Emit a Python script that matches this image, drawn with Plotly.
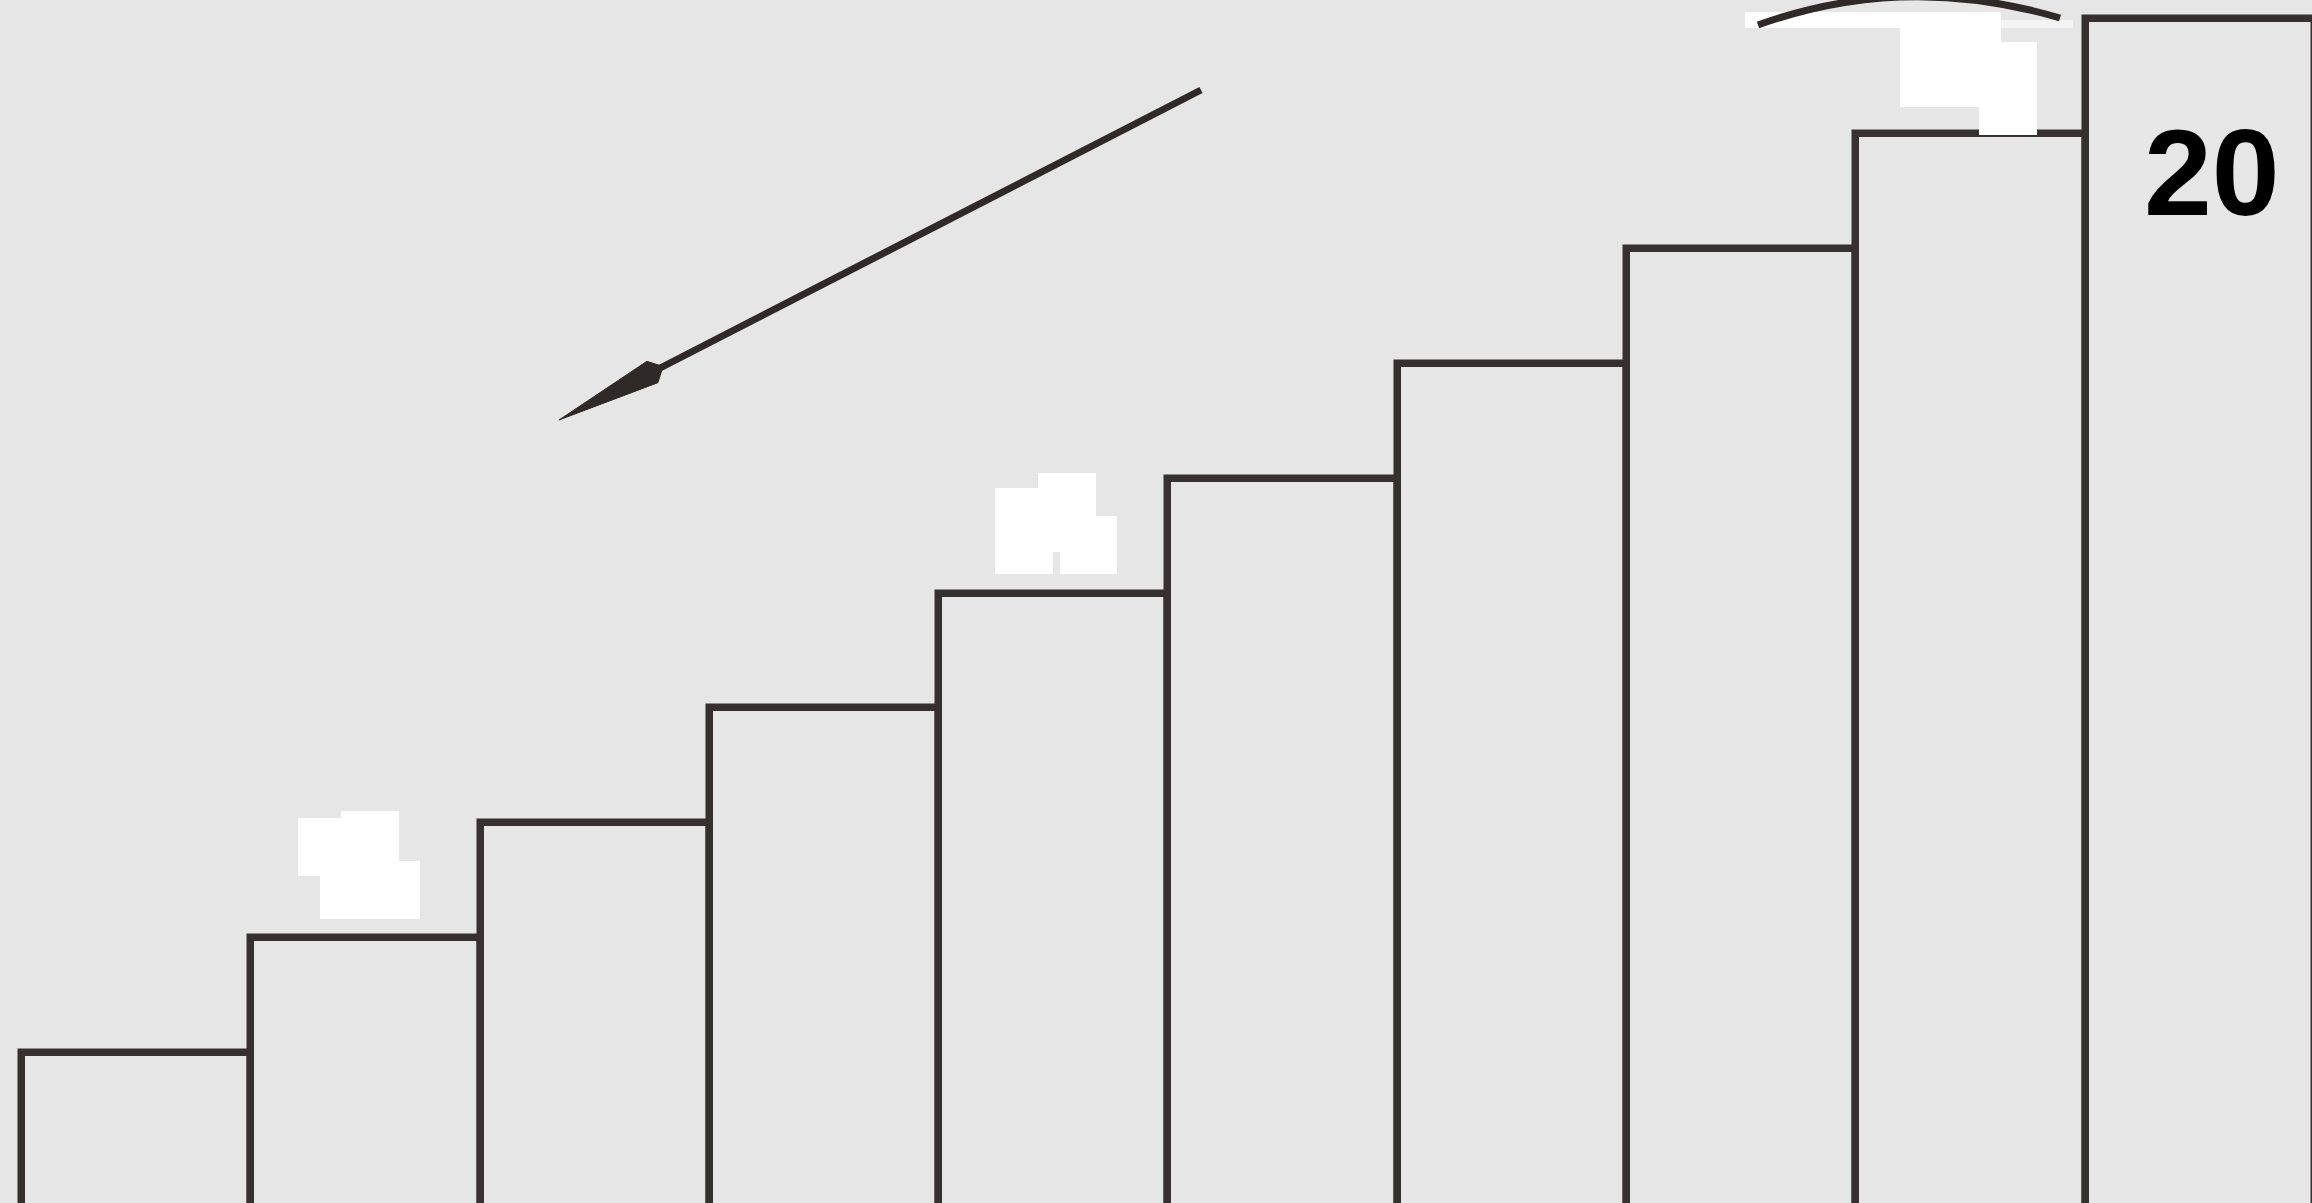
import plotly.graph_objects as go

# ---- data ----
categories = [1, 2, 3, 4, 5, 6, 7, 8, 9, 10]
values = [11, 12, 13, 14, 15, 16, 17, 18, 19, 20]
top_label = "20"

W, H = 2312, 1203
BG = "#e6e6e6"
DARK = "#2f2a28"
LINE = "#363130"

# pixel -> paper helpers for decorations
def px(xp):
    return xp / W

def py(yp):
    return 1 - yp / H

def rect(x0, y0, x1, y1, color="white"):
    return dict(type="rect", xref="paper", yref="paper",
                x0=px(x0), x1=px(x1), y0=py(y1), y1=py(y0),
                fillcolor=color, line=dict(width=0), layer="above")

fig = go.Figure()
fig.add_trace(go.Bar(
    x=categories, y=values, width=1,
    marker=dict(color=BG, line=dict(color=LINE, width=7.5)),
    hoverinfo="skip", showlegend=False,
))

shapes = []
# white masked label patches
shapes += [
    rect(298, 818, 399, 876), rect(341, 811, 399, 876), rect(320, 861, 420, 919),
    rect(995, 488, 1053, 574), rect(1038, 473, 1096, 552), rect(1060, 473, 1096, 574),
    rect(1060, 516, 1117, 574),
    rect(1745, 12, 2000, 28), rect(2000, 20, 2073, 28, "#f4f4f4"),
    rect(1900, 13, 2001, 107), rect(1979, 42, 2037, 135),
]
# arc at top
shapes.append(dict(type="path", xref="paper", yref="paper",
                   path=f"M {px(1758)},{py(25)} Q {px(1905)},{py(-28)} {px(2060)},{py(18)}",
                   line=dict(color=DARK, width=7), layer="above"))
# arrow: line + elongated head
tail = (1201, 90)
tip = (559, 420)
dx, dy = tail[0] - tip[0], tail[1] - tip[1]
L = (dx * dx + dy * dy) ** 0.5
ux, uy = dx / L, dy / L
nx, ny = -uy, ux
hl, hw = 105, 12
bx, by = tip[0] + hl * ux, tip[1] + hl * uy
shapes.append(dict(type="line", xref="paper", yref="paper",
                   x0=px(tail[0]), y0=py(tail[1]), x1=px(bx), y1=py(by),
                   line=dict(color=DARK, width=7), layer="above"))
c1 = (bx + hw * nx, by + hw * ny)
c2 = (bx - hw * nx, by - hw * ny)
shapes.append(dict(type="path", xref="paper", yref="paper",
                   path=(f"M {px(tip[0])},{py(tip[1])} L {px(c1[0])},{py(c1[1])} "
                         f"L {px(bx + 12*ux)},{py(by + 12*uy)} L {px(c2[0])},{py(c2[1])} Z"),
                   fillcolor=DARK, line=dict(color=DARK, width=1), layer="above"))

fig.update_layout(
    width=W, height=H,
    margin=dict(l=0, r=0, t=0, b=0),
    paper_bgcolor=BG, plot_bgcolor=BG,
    bargap=0,
    shapes=shapes,
    xaxis=dict(range=[0.40406, 10.4870], visible=False, fixedrange=True),
    yaxis=dict(range=[9.6954, 20.1654], visible=False, fixedrange=True),
    annotations=[dict(
        x=categories[-1], y=values[-1], xref="x", yref="y",
        text="<b>" + top_label + "</b>", showarrow=False,
        xanchor="center", yanchor="middle", xshift=12, yshift=-154,
        font=dict(family="Liberation Sans, Arial, sans-serif", size=122, color="black"),
    )],
)

fig.write_html("out.html", config={"displayModeBar": False},
               post_script="document.body.style.margin='0';document.body.style.overflow='hidden';")
